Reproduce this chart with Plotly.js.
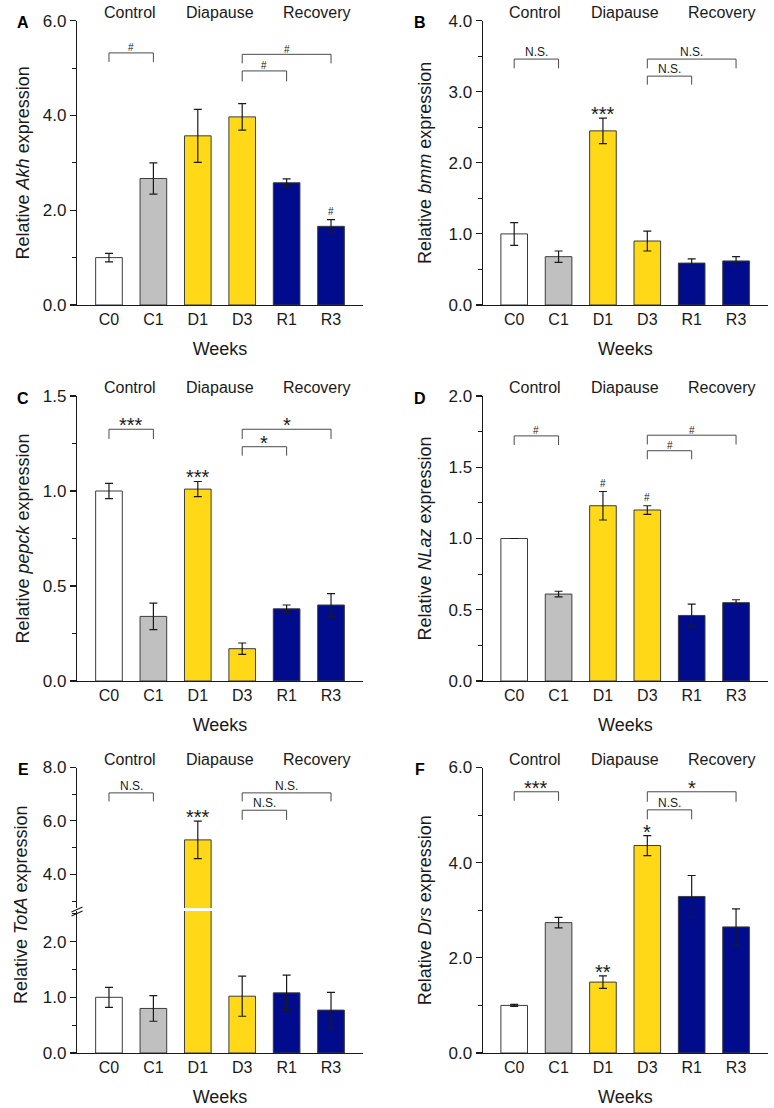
<!DOCTYPE html>
<html>
<head>
<meta charset="utf-8">
<script src="https://cdn.plot.ly/plotly-3.0.1.min.js"></script>
<style>html,body{margin:0;padding:0;background:#fff;}#chart{width:774px;height:1108px;}</style>
</head>
<body>
<div id="chart"></div>
<script>
// ---------------- data ----------------
const categories = ['C0', 'C1', 'D1', 'D3', 'R1', 'R3'];
const groupLabels = ['Control', 'Diapause', 'Recovery'];
const xTitle = 'Weeks';

const akhMean = [1.00, 2.67, 3.57, 3.97, 2.58, 1.66];
const akhErr  = [0.09, 0.33, 0.56, 0.28, 0.08, 0.14];
const bmmMean = [1.00, 0.68, 2.45, 0.90, 0.59, 0.62];
const bmmErr  = [0.16, 0.08, 0.18, 0.14, 0.06, 0.06];
const pepckMean = [1.00, 0.34, 1.01, 0.17, 0.38, 0.40];
const pepckErr  = [0.04, 0.07, 0.04, 0.03, 0.02, 0.06];
const nlazMean = [1.00, 0.61, 1.23, 1.20, 0.46, 0.55];
const nlazErr  = [0.00, 0.02, 0.10, 0.03, 0.08, 0.02];
const totaMean = [1.00, 0.80, 5.29, 1.02, 1.08, 0.77];
const totaErr  = [0.18, 0.23, 0.70, 0.36, 0.32, 0.32];
const drsMean = [1.00, 2.74, 1.49, 4.36, 3.29, 2.65];
const drsErr  = [0.02, 0.11, 0.13, 0.21, 0.44, 0.38];

// significance brackets: [from, to, top level, leg end, label]
const akhBrackets   = [['C0','C1',5.32,5.13,'#'], ['D3','R1',4.94,4.72,'#'], ['D3','R3',5.29,5.10,'#']];
const bmmBrackets   = [['C0','C1',3.46,3.33,'N.S.'], ['D3','R1',3.22,3.10,'N.S.'], ['D3','R3',3.46,3.33,'N.S.']];
const pepckBrackets = [['C0','C1',1.325,1.274,'***'], ['D3','R1',1.233,1.186,'*'], ['D3','R3',1.325,1.274,'*']];
const nlazBrackets  = [['C0','C1',1.72,1.656,'#'], ['D3','R1',1.616,1.556,'#'], ['D3','R3',1.725,1.66,'#']];
const totaBrackets  = [['C0','C1',7.05,6.73,'N.S.'], ['D3','R1',6.40,6.04,'N.S.'], ['D3','R3',7.05,6.73,'N.S.']];
const drsBrackets   = [['C0','C1',5.49,5.30,'***'], ['D3','R1',5.11,4.91,'N.S.'], ['D3','R3',5.49,5.28,'*']];

// marks above single bars: [category, label]
const akhMarks   = [['R3','#']];
const bmmMarks   = [['D1','***']];
const pepckMarks = [['D1','***']];
const nlazMarks  = [['D1','#'], ['D3','#']];
const totaMarks  = [['D1','***']];
const drsMarks   = [['D1','**'], ['D3','*']];

// ---------------- styles ----------------
const FONT = 'Liberation Sans, Arial, Helvetica, sans-serif';
const INK = '#1a1a1a';
const barColors = ['#ffffff', '#c0c0c0', '#ffd817', '#ffd817', '#000c8c', '#000c8c'];
const barLine = '#3c3c3c';
const bracketColor = '#4a4a4a';

const W = 774, H = 1108;
const colDom = [[77 / W, 363 / W], [482.7 / W, 768 / W]];
const rowPx = [[20.7, 305], [396, 681], [767.5, 1053]];
const py = p => 1 - p / H;
const xRange = [[-0.72, 5.72], [-0.71, 5.72]];
const titleStandoff = [8.5, 12];

const panels = [
  {letter: 'A', gene: 'Akh',   mean: akhMean,   err: akhErr,   br: akhBrackets,   mk: akhMarks,   max: 6,   dtick: 2,   minor: 1,    col: 0, row: 0},
  {letter: 'B', gene: 'bmm',   mean: bmmMean,   err: bmmErr,   br: bmmBrackets,   mk: bmmMarks,   max: 4,   dtick: 1,   minor: 0.5,  col: 1, row: 0},
  {letter: 'C', gene: 'pepck', mean: pepckMean, err: pepckErr, br: pepckBrackets, mk: pepckMarks, max: 1.5, dtick: 0.5, minor: 0.25, col: 0, row: 1},
  {letter: 'D', gene: 'NLaz',  mean: nlazMean,  err: nlazErr,  br: nlazBrackets,  mk: nlazMarks,  max: 2,   dtick: 0.5, minor: 0.25, col: 1, row: 1},
  {letter: 'E', gene: 'TotA',  mean: totaMean,  err: totaErr,  br: totaBrackets,  mk: totaMarks,  max: 8,   dtick: 2,   minor: 1,    col: 0, row: 2, broken: true},
  {letter: 'F', gene: 'Drs',   mean: drsMean,   err: drsErr,   br: drsBrackets,   mk: drsMarks,   max: 6,   dtick: 2,   minor: 1,    col: 1, row: 2}
];

const traces = [];
const layout = {
  width: W, height: H,
  margin: {l: 0, r: 0, t: 0, b: 0},
  paper_bgcolor: '#ffffff', plot_bgcolor: 'rgba(0,0,0,0)',
  showlegend: false,
  font: {family: FONT, color: INK, size: 16},
  annotations: [], shapes: []
};

function yAxisBase(extra) {
  return Object.assign({
    showline: true, linecolor: INK, linewidth: 1.2, mirror: false,
    ticks: 'outside', ticklen: 6, tickwidth: 1.1, tickcolor: INK,
    showgrid: false, zeroline: false, tickformat: '.1f',
    tickfont: {family: FONT, size: 17, color: INK},
    fixedrange: true
  }, extra);
}

// label size and vertical offset (px) for bracket labels / bar marks
const markStyle = (label, onBar) => {
  if (label === '#') return {size: 10, shift: onBar ? 8 : 5};
  if (label === 'N.S.') return {size: 12, shift: 7};
  return {size: 20, shift: 4};
};

panels.forEach((p, i) => {
  const n = i + 1;
  const xa = 'x' + n, xk = 'xaxis' + n;
  const ya = 'y' + n, yk = 'yaxis' + n;
  const dom = colDom[p.col];
  const [topPx, botPx] = rowPx[p.row];

  layout[xk] = {
    domain: dom, anchor: ya, type: 'category', range: xRange[p.col],
    showline: true, linecolor: INK, linewidth: 1.2, ticks: '',
    showgrid: false, zeroline: false, fixedrange: true,
    tickfont: {family: FONT, size: 16, color: INK},
    title: {text: xTitle, font: {family: FONT, size: 18, color: INK}, standoff: 15}
  };

  const barTrace = (yaxisId) => ({
    type: 'bar', x: categories, y: p.mean, xaxis: xa, yaxis: yaxisId,
    width: 0.6,
    marker: {color: barColors, line: {color: barLine, width: 1}},
    error_y: {type: 'data', array: p.err, visible: true, color: INK, thickness: 1.2, width: 4},
    hoverinfo: 'x+y'
  });

  let yRefTop = ya; // axis used for brackets/marks
  if (p.broken) {
    const lowTopPx = 911, upBotPx = 908;
    layout[yk] = yAxisBase({
      domain: [py(botPx), py(lowTopPx)], anchor: xa,
      range: [0, 2.55], dtick: 1, tick0: 0,
      minor: {dtick: 0.5, ticks: 'outside', ticklen: 3.5, tickcolor: INK, tickwidth: 1},
      title: {text: ''}
    });
    layout['yaxis7'] = yAxisBase({
      domain: [py(upBotPx), py(topPx)], anchor: xa,
      range: [2.74, p.max], dtick: p.dtick, tick0: 0,
      minor: {dtick: p.minor, ticks: 'outside', ticklen: 3.5, tickcolor: INK, tickwidth: 1}
    });
    traces.push(barTrace(ya));
    traces.push(barTrace('y7'));
    yRefTop = 'y7';
    // y title as annotation spanning both axes
    layout.annotations.push({
      xref: 'paper', yref: 'paper', x: (dom[0] * W - 56) / W, y: py(905),
      text: 'Relative <i>' + p.gene + '</i> expression', textangle: -90,
      showarrow: false, xanchor: 'center', yanchor: 'middle',
      font: {family: FONT, size: 18, color: INK}
    });
    // axis break marks
    [-2.5, 1.5].forEach(dy => {
      layout.shapes.push({
        type: 'line', xref: xa + ' domain', yref: ya + ' domain',
        xsizemode: 'pixel', xanchor: 0, x0: -5.5, x1: 5.5,
        ysizemode: 'pixel', yanchor: 1, y0: dy - 2.5, y1: dy + 2.5,
        line: {color: INK, width: 1.1}
      });
    });
  } else {
    layout[yk] = yAxisBase({
      domain: [py(botPx), py(topPx)], anchor: xa,
      range: [0, p.max], dtick: p.dtick, tick0: 0,
      minor: {dtick: p.minor, ticks: 'outside', ticklen: 3.5, tickcolor: INK, tickwidth: 1},
      title: {text: 'Relative <i>' + p.gene + '</i> expression', font: {family: FONT, size: 18, color: INK},
              standoff: titleStandoff[p.col]}
    });
    traces.push(barTrace(ya));
  }

  // group labels above plot
  const groupX = [0.47, 2.5, 4.69];
  groupLabels.forEach((g, k) => {
    layout.annotations.push({
      xref: xa, yref: (p.broken ? 'y7' : ya) + ' domain', x: groupX[k], y: 1,
      text: g, showarrow: false, xanchor: 'center', yanchor: 'middle', yshift: 8,
      font: {family: FONT, size: 16, color: INK}
    });
  });

  // panel letter
  const letterPos = p.col === 0 ? 23 : 420;
  layout.annotations.push({
    xref: 'paper', yref: 'paper', x: letterPos / W, y: py(topPx + 2),
    text: '<b>' + p.letter + '</b>', showarrow: false, xanchor: 'center', yanchor: 'middle',
    font: {family: FONT, size: 16, color: '#000'}
  });

  // brackets
  p.br.forEach(([a, b, top, leg, label]) => {
    const ia = categories.indexOf(a), ib = categories.indexOf(b);
    const seg = (x0, y0, x1, y1) => ({type: 'line', xref: xa, yref: yRefTop, x0, y0, x1, y1,
      line: {color: bracketColor, width: 1}});
    layout.shapes.push(seg(ia, leg, ia, top), seg(ia, top, ib, top), seg(ib, top, ib, leg));
    const st = markStyle(label, false);
    layout.annotations.push({
      xref: xa, yref: yRefTop, x: (ia + ib) / 2, y: top, text: label, showarrow: false,
      xanchor: 'center', yanchor: 'middle', yshift: st.shift,
      font: {family: FONT, size: st.size, color: INK}
    });
  });

  // marks above bars
  p.mk.forEach(([c, label]) => {
    const k = categories.indexOf(c);
    const st = markStyle(label, true);
    layout.annotations.push({
      xref: xa, yref: yRefTop, x: k, y: p.mean[k] + p.err[k], text: label, showarrow: false,
      xanchor: 'center', yanchor: 'middle', yshift: st.shift,
      font: {family: FONT, size: st.size, color: INK}
    });
  });
});

Plotly.newPlot('chart', traces, layout, {staticPlot: true, displayModeBar: false});
</script>
</body>
</html>
